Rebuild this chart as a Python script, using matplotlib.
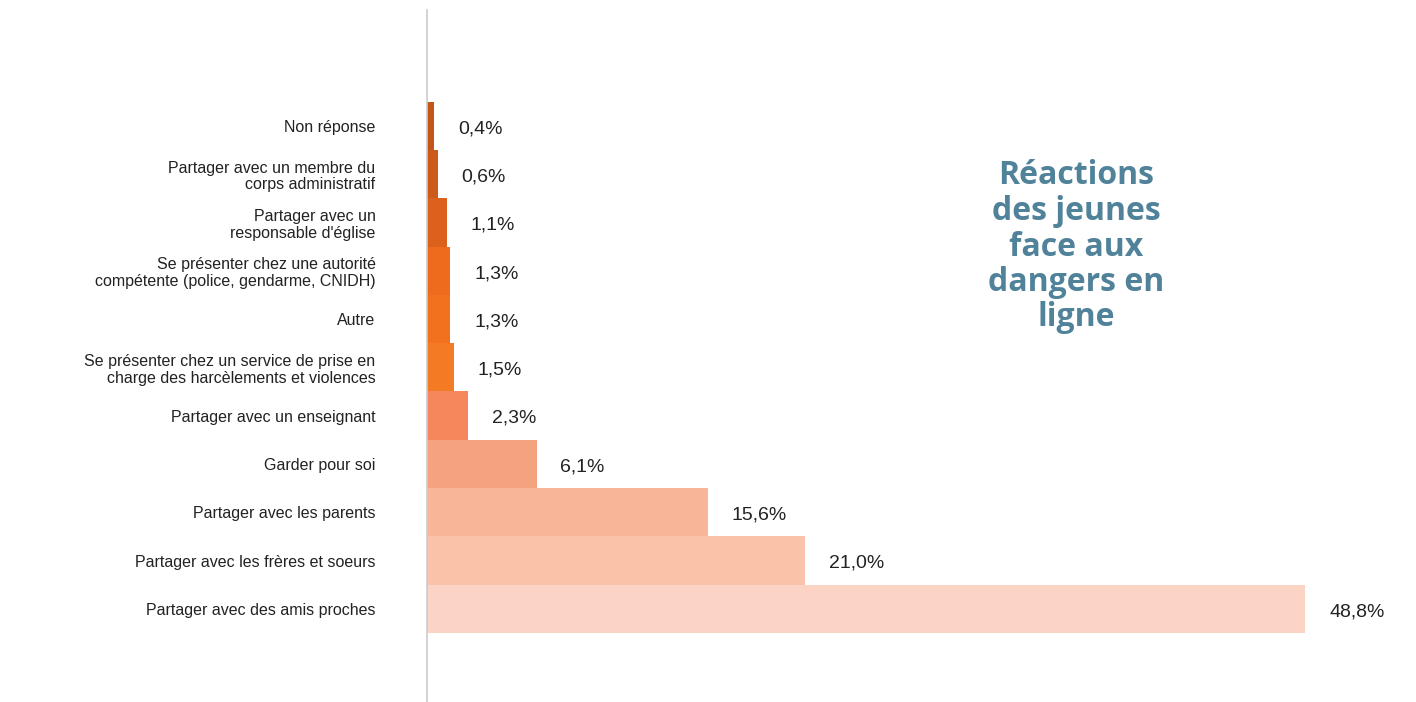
import matplotlib
matplotlib.use("Agg")
import matplotlib.pyplot as plt

# data, from bottom to top
categories = [
    "Partager avec des amis proches",
    "Partager avec les frères et soeurs",
    "Partager avec les parents",
    "Garder pour soi",
    "Partager avec un enseignant",
    "Se présenter chez un service de prise en\ncharge des harcèlements et violences",
    "Autre",
    "Se présenter chez une autorité\ncompétente (police, gendarme, CNIDH)",
    "Partager avec un\nresponsable d'église",
    "Partager avec un membre du\ncorps administratif",
    "Non réponse",
]
values = [48.8, 21.0, 15.6, 6.1, 2.3, 1.5, 1.3, 1.3, 1.1, 0.6, 0.4]
value_labels = ["48,8%", "21,0%", "15,6%", "6,1%", "2,3%", "1,5%", "1,3%", "1,3%", "1,1%", "0,6%", "0,4%"]
colors = ["#fbd4c6", "#f9c2a9", "#f8b597", "#f5a27e", "#f4885c", "#f47a24",
          "#f2711f", "#ee6b1d", "#dc611c", "#cc5a1a", "#c4561a"]

plt.rcParams['font.family'] = ['Liberation Sans', 'DejaVu Sans']

fig = plt.figure(figsize=(14.16, 7.02), dpi=100)
ax = fig.add_axes([427 / 1416, 0, 1000 / 1416, 692 / 702])

ypos = list(range(len(values)))
ax.barh(ypos, values, height=1.0, color=colors, edgecolor="none")

for y, v, lab in zip(ypos, values, value_labels):
    ax.annotate(lab, (v, y), xytext=(17, -2), textcoords="offset points",
                va="center", ha="left", fontsize=14, color="#222222")

ax.set_yticks(ypos)
ax.set_yticklabels(categories, fontsize=11.5, color="#222222", linespacing=1.15)
ax.tick_params(axis="y", length=0, pad=37)
ax.set_xticks([])
ax.set_xlim(0, 1000 / 18.0)
ax.set_ylim(-1.93, 12.4)

for s in ["top", "right", "bottom"]:
    ax.spines[s].set_visible(False)
ax.spines["left"].set_color("#cccccc")
ax.spines["left"].set_linewidth(1.2)

fig.text(1076 / 1416, 1 - 247 / 702, "Réactions\ndes jeunes\nface aux\ndangers en\nligne",
         ha="center", va="center", fontsize=23, fontweight="bold", color="#50829a",
         family=["Open Sans", "DejaVu Sans"], linespacing=1.1)

fig.savefig("out.png", dpi=100)
